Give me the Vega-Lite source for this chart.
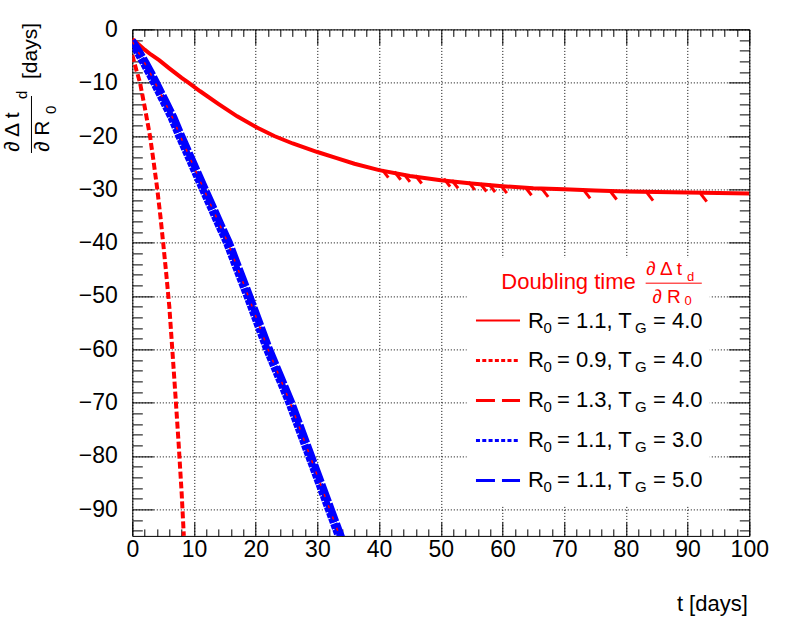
{
"$schema":"https://vega.github.io/schema/vega-lite/v6.json",
"width":617,"height":506.5,
"autosize":{"type":"none"},
"padding":{"left":132.3,"top":29.4,"right":46.7,"bottom":86.1},
"background":"white",
"config":{"font":"Liberation Sans","view":{"stroke":"black","strokeWidth":1}},
"datasets":{
"curves":[
{"series":"R0=1.1,TG=4.0","t":0,"v":-1.8},{"series":"R0=1.1,TG=4.0","t":1,"v":-2.8},{"series":"R0=1.1,TG=4.0","t":2,"v":-3.8},{"series":"R0=1.1,TG=4.0","t":3,"v":-4.7},{"series":"R0=1.1,TG=4.0","t":4.4,"v":-5.8},{"series":"R0=1.1,TG=4.0","t":6,"v":-7.3},{"series":"R0=1.1,TG=4.0","t":8,"v":-9.1},{"series":"R0=1.1,TG=4.0","t":9.1,"v":-10.0},{"series":"R0=1.1,TG=4.0","t":11,"v":-11.6},{"series":"R0=1.1,TG=4.0","t":14,"v":-14.0},{"series":"R0=1.1,TG=4.0","t":17,"v":-16.3},{"series":"R0=1.1,TG=4.0","t":20.2,"v":-18.4},{"series":"R0=1.1,TG=4.0","t":23,"v":-20.0},{"series":"R0=1.1,TG=4.0","t":26,"v":-21.4},{"series":"R0=1.1,TG=4.0","t":30,"v":-23.0},{"series":"R0=1.1,TG=4.0","t":33,"v":-24.1},{"series":"R0=1.1,TG=4.0","t":36,"v":-25.2},{"series":"R0=1.1,TG=4.0","t":40,"v":-26.4},{"series":"R0=1.1,TG=4.0","t":45,"v":-27.5},{"series":"R0=1.1,TG=4.0","t":50,"v":-28.3},{"series":"R0=1.1,TG=4.0","t":55,"v":-28.9},{"series":"R0=1.1,TG=4.0","t":60,"v":-29.4},{"series":"R0=1.1,TG=4.0","t":65,"v":-29.8},{"series":"R0=1.1,TG=4.0","t":70,"v":-30.0},{"series":"R0=1.1,TG=4.0","t":75,"v":-30.2},{"series":"R0=1.1,TG=4.0","t":80,"v":-30.4},{"series":"R0=1.1,TG=4.0","t":85,"v":-30.5},{"series":"R0=1.1,TG=4.0","t":90,"v":-30.6},{"series":"R0=1.1,TG=4.0","t":95,"v":-30.7},{"series":"R0=1.1,TG=4.0","t":100,"v":-30.8},
{"series":"R0=0.9,TG=4.0","t":0,"v":-4.8},{"series":"R0=0.9,TG=4.0","t":0.2,"v":-5.7},{"series":"R0=0.9,TG=4.0","t":0.7,"v":-7.8},{"series":"R0=0.9,TG=4.0","t":1.25,"v":-10},{"series":"R0=0.9,TG=4.0","t":2.0,"v":-14.5},{"series":"R0=0.9,TG=4.0","t":2.87,"v":-20},{"series":"R0=0.9,TG=4.0","t":3.5,"v":-25.2},{"series":"R0=0.9,TG=4.0","t":4.05,"v":-30},{"series":"R0=0.9,TG=4.0","t":4.55,"v":-35},{"series":"R0=0.9,TG=4.0","t":5.0,"v":-40},{"series":"R0=0.9,TG=4.0","t":5.5,"v":-45.8},{"series":"R0=0.9,TG=4.0","t":6.0,"v":-52},{"series":"R0=0.9,TG=4.0","t":6.5,"v":-60.3},{"series":"R0=0.9,TG=4.0","t":7.0,"v":-68.8},{"series":"R0=0.9,TG=4.0","t":7.5,"v":-77.5},{"series":"R0=0.9,TG=4.0","t":8.0,"v":-87},{"series":"R0=0.9,TG=4.0","t":8.35,"v":-95},
{"series":"R0=1.3,TG=4.0","t":0,"v":-2.3},{"series":"R0=1.3,TG=4.0","t":1,"v":-4.3},{"series":"R0=1.3,TG=4.0","t":2,"v":-6.3},{"series":"R0=1.3,TG=4.0","t":3,"v":-8.4},{"series":"R0=1.3,TG=4.0","t":3.7,"v":-10},{"series":"R0=1.3,TG=4.0","t":5,"v":-13},{"series":"R0=1.3,TG=4.0","t":6.5,"v":-16.5},{"series":"R0=1.3,TG=4.0","t":7.7,"v":-19.8},{"series":"R0=1.3,TG=4.0","t":9,"v":-23.2},{"series":"R0=1.3,TG=4.0","t":10.3,"v":-26.6},{"series":"R0=1.3,TG=4.0","t":11.6,"v":-30},{"series":"R0=1.3,TG=4.0","t":13,"v":-33.6},{"series":"R0=1.3,TG=4.0","t":14.3,"v":-37},{"series":"R0=1.3,TG=4.0","t":15.5,"v":-40},{"series":"R0=1.3,TG=4.0","t":17,"v":-44.6},{"series":"R0=1.3,TG=4.0","t":18.8,"v":-50},{"series":"R0=1.3,TG=4.0","t":20.4,"v":-55},{"series":"R0=1.3,TG=4.0","t":22,"v":-60},{"series":"R0=1.3,TG=4.0","t":23.8,"v":-65},{"series":"R0=1.3,TG=4.0","t":25.6,"v":-70},{"series":"R0=1.3,TG=4.0","t":27.2,"v":-75},{"series":"R0=1.3,TG=4.0","t":28.8,"v":-80},{"series":"R0=1.3,TG=4.0","t":30.4,"v":-85},{"series":"R0=1.3,TG=4.0","t":32,"v":-90},{"series":"R0=1.3,TG=4.0","t":33.6,"v":-95},{"series":"R0=1.3,TG=4.0","t":34.2,"v":-96.8},
{"series":"R0=1.1,TG=3.0","t":0,"v":-2.5},{"series":"R0=1.1,TG=3.0","t":0.8,"v":-4.3},{"series":"R0=1.1,TG=3.0","t":1.8,"v":-6.3},{"series":"R0=1.1,TG=3.0","t":2.8,"v":-8.4},{"series":"R0=1.1,TG=3.0","t":3.5,"v":-10},{"series":"R0=1.1,TG=3.0","t":4.8,"v":-13},{"series":"R0=1.1,TG=3.0","t":6.3,"v":-16.5},{"series":"R0=1.1,TG=3.0","t":7.5,"v":-19.8},{"series":"R0=1.1,TG=3.0","t":8.8,"v":-23.2},{"series":"R0=1.1,TG=3.0","t":10.1,"v":-26.6},{"series":"R0=1.1,TG=3.0","t":11.4,"v":-30},{"series":"R0=1.1,TG=3.0","t":12.8,"v":-33.6},{"series":"R0=1.1,TG=3.0","t":14.1,"v":-37},{"series":"R0=1.1,TG=3.0","t":15.3,"v":-40},{"series":"R0=1.1,TG=3.0","t":16.8,"v":-44.6},{"series":"R0=1.1,TG=3.0","t":18.6,"v":-50},{"series":"R0=1.1,TG=3.0","t":20.2,"v":-55},{"series":"R0=1.1,TG=3.0","t":21.8,"v":-60},{"series":"R0=1.1,TG=3.0","t":23.6,"v":-65},{"series":"R0=1.1,TG=3.0","t":25.4,"v":-70},{"series":"R0=1.1,TG=3.0","t":27.0,"v":-75},{"series":"R0=1.1,TG=3.0","t":28.6,"v":-80},{"series":"R0=1.1,TG=3.0","t":30.2,"v":-85},{"series":"R0=1.1,TG=3.0","t":31.8,"v":-90},{"series":"R0=1.1,TG=3.0","t":33.4,"v":-95},{"series":"R0=1.1,TG=3.0","t":34.0,"v":-96.8},
{"series":"R0=1.1,TG=5.0","t":0,"v":-2.1},{"series":"R0=1.1,TG=5.0","t":1.2,"v":-4.3},{"series":"R0=1.1,TG=5.0","t":2.2,"v":-6.3},{"series":"R0=1.1,TG=5.0","t":3.2,"v":-8.4},{"series":"R0=1.1,TG=5.0","t":3.9,"v":-10},{"series":"R0=1.1,TG=5.0","t":5.2,"v":-13},{"series":"R0=1.1,TG=5.0","t":6.7,"v":-16.5},{"series":"R0=1.1,TG=5.0","t":7.9,"v":-19.8},{"series":"R0=1.1,TG=5.0","t":9.2,"v":-23.2},{"series":"R0=1.1,TG=5.0","t":10.5,"v":-26.6},{"series":"R0=1.1,TG=5.0","t":11.8,"v":-30},{"series":"R0=1.1,TG=5.0","t":13.2,"v":-33.6},{"series":"R0=1.1,TG=5.0","t":14.5,"v":-37},{"series":"R0=1.1,TG=5.0","t":15.7,"v":-40},{"series":"R0=1.1,TG=5.0","t":17.2,"v":-44.6},{"series":"R0=1.1,TG=5.0","t":19.0,"v":-50},{"series":"R0=1.1,TG=5.0","t":20.6,"v":-55},{"series":"R0=1.1,TG=5.0","t":22.2,"v":-60},{"series":"R0=1.1,TG=5.0","t":24.0,"v":-65},{"series":"R0=1.1,TG=5.0","t":25.8,"v":-70},{"series":"R0=1.1,TG=5.0","t":27.4,"v":-75},{"series":"R0=1.1,TG=5.0","t":29.0,"v":-80},{"series":"R0=1.1,TG=5.0","t":30.6,"v":-85},{"series":"R0=1.1,TG=5.0","t":32.2,"v":-90},{"series":"R0=1.1,TG=5.0","t":33.8,"v":-95},{"series":"R0=1.1,TG=5.0","t":34.4,"v":-96.8}
],
"spikes":[
{"t":40.5,"v":-26.3,"t2":41.5,"v2":-27.8},{"t":42.5,"v":-26.7,"t2":43.5,"v2":-28.2},{"t":44.0,"v":-27.1,"t2":45.0,"v2":-28.6},{"t":45.9,"v":-27.4,"t2":46.9,"v2":-28.9},{"t":50.5,"v":-28.0,"t2":51.5,"v2":-29.5},{"t":51.8,"v":-28.3,"t2":52.8,"v2":-29.8},{"t":54.5,"v":-28.6,"t2":55.5,"v2":-30.1},{"t":56.4,"v":-28.9,"t2":57.4,"v2":-30.4},{"t":57.8,"v":-29.0,"t2":58.8,"v2":-30.5},{"t":59.7,"v":-29.2,"t2":60.7,"v2":-30.7},{"t":63.7,"v":-29.6,"t2":64.7,"v2":-31.1},{"t":66.4,"v":-29.9,"t2":67.4,"v2":-31.4},{"t":73.2,"v":-30.2,"t2":74.2,"v2":-31.7},{"t":77.5,"v":-30.4,"t2":78.5,"v2":-31.9},{"t":83.4,"v":-30.6,"t2":84.4,"v2":-32.1},{"t":92.1,"v":-30.8,"t2":93.1,"v2":-32.3}
],
"legend":[
{"series":"R0=1.1,TG=4.0","mid":"= 1.1, T","end":"= 4.0","ly":-54.6},
{"series":"R0=0.9,TG=4.0","mid":"= 0.9, T","end":"= 4.0","ly":-62.1},
{"series":"R0=1.3,TG=4.0","mid":"= 1.3, T","end":"= 4.0","ly":-69.6},
{"series":"R0=1.1,TG=3.0","mid":"= 1.1, T","end":"= 3.0","ly":-77.1},
{"series":"R0=1.1,TG=5.0","mid":"= 1.1, T","end":"= 5.0","ly":-84.6}
],
"one":[{"t":0,"v":0}]
},
"resolve":{"axis":{"x":"independent","y":"independent"}},
"layer":[
{"data":{"name":"curves"},"transform":[{"filter":"datum.series === 'R0=1.1,TG=4.0'"}],
 "mark":{"type":"line","color":"#ff0000","strokeWidth":4,"clip":true},
 "encoding":{
  "x":{"field":"t","type":"quantitative","scale":{"domain":[0,100],"nice":false,"zero":false},
   "axis":{"orient":"bottom","values":[0,2,4,6,8,10,12,14,16,18,20,22,24,26,28,30,32,34,36,38,40,42,44,46,48,50,52,54,56,58,60,62,64,66,68,70,72,74,76,78,80,82,84,86,88,90,92,94,96,98,100],
    "format":"d","labelExpr":"datum.value % 10 === 0 ? datum.label : ''","labelFont":"Liberation Sans","labelFontSize":23,"labelColor":"black","labelPadding":17,"labelOverlap":false,"labelFlush":false,"labelBound":false,
    "domain":false,"ticks":true,"tickColor":"black","tickWidth":1,"tickSize":{"condition":{"test":"datum.value % 10 === 0","value":-14},"value":-7},
    "grid":true,"gridColor":"black","gridWidth":1,"gridDash":[1,2],"gridOpacity":{"condition":{"test":"datum.value % 10 === 0","value":1},"value":0},
    "title":"t [days]","titleFont":"Liberation Sans","titleFontSize":22,"titleFontWeight":"normal","titleColor":"black","titleX":615,"titleY":75,"titleAlign":"right","titleBaseline":"alphabetic"}},
  "y":{"field":"v","type":"quantitative","scale":{"domain":[-95,0],"nice":false,"zero":false},
   "axis":{"orient":"left","values":[0,-2,-4,-6,-8,-10,-12,-14,-16,-18,-20,-22,-24,-26,-28,-30,-32,-34,-36,-38,-40,-42,-44,-46,-48,-50,-52,-54,-56,-58,-60,-62,-64,-66,-68,-70,-72,-74,-76,-78,-80,-82,-84,-86,-88,-90,-92,-94],
    "format":"d","labelExpr":"datum.value % 10 === 0 ? datum.label : ''","labelFont":"Liberation Sans","labelFontSize":23,"labelColor":"black","labelPadding":36,"labelOverlap":false,"labelFlush":false,"labelBound":false,
    "domain":false,"ticks":true,"tickColor":"black","tickWidth":1,"tickSize":{"condition":{"test":"datum.value % 10 === 0","value":-21},"value":-10},
    "grid":true,"gridColor":"black","gridWidth":1,"gridDash":[1,2],"gridOpacity":{"condition":{"test":"datum.value % 10 === 0","value":1},"value":0},
    "title":null}}
 }},
{"data":{"name":"spikes"},"mark":{"type":"rule","color":"#ff0000","strokeWidth":3},
 "encoding":{"x":{"field":"t","type":"quantitative","scale":{"domain":[0,100],"nice":false,"zero":false},"axis":null},"x2":{"field":"t2"},
  "y":{"field":"v","type":"quantitative","scale":{"domain":[-95,0],"nice":false,"zero":false},"axis":null},"y2":{"field":"v2"}}},
{"data":{"name":"curves"},"transform":[{"filter":"datum.series === 'R0=0.9,TG=4.0'"}],
 "mark":{"type":"line","color":"#ff0000","strokeWidth":4,"strokeDash":[7,3],"clip":true},
 "encoding":{"x":{"field":"t","type":"quantitative","scale":{"domain":[0,100],"nice":false,"zero":false},"axis":null},
  "y":{"field":"v","type":"quantitative","scale":{"domain":[-95,0],"nice":false,"zero":false},"axis":null}}},
{"data":{"name":"curves"},"transform":[{"filter":"datum.series === 'R0=1.1,TG=3.0'"}],
 "mark":{"type":"line","color":"#0000ff","strokeWidth":7.5,"strokeDash":[5,1],"clip":true},
 "encoding":{"x":{"field":"t","type":"quantitative","scale":{"domain":[0,100],"nice":false,"zero":false},"axis":null},
  "y":{"field":"v","type":"quantitative","scale":{"domain":[-95,0],"nice":false,"zero":false},"axis":null}}},
{"data":{"name":"curves"},"transform":[{"filter":"datum.series === 'R0=1.1,TG=5.0'"}],
 "mark":{"type":"line","color":"#0000ff","strokeWidth":7.5,"strokeDash":[19,2],"clip":true},
 "encoding":{"x":{"field":"t","type":"quantitative","scale":{"domain":[0,100],"nice":false,"zero":false},"axis":null},
  "y":{"field":"v","type":"quantitative","scale":{"domain":[-95,0],"nice":false,"zero":false},"axis":null}}},
{"data":{"name":"curves"},"transform":[{"filter":"datum.series === 'R0=1.3,TG=4.0'"}],
 "mark":{"type":"line","color":"#ff0000","strokeWidth":1.5,"strokeDash":[3,9],"clip":true},
 "encoding":{"x":{"field":"t","type":"quantitative","scale":{"domain":[0,100],"nice":false,"zero":false},"axis":null},
  "y":{"field":"v","type":"quantitative","scale":{"domain":[-95,0],"nice":false,"zero":false},"axis":null}}},
{"data":{"values":[{}]},"mark":{"type":"rect","fill":"white"},
 "encoding":{"x":{"datum":54.2,"type":"quantitative","scale":{"domain":[0,100],"nice":false,"zero":false},"axis":null},"x2":{"datum":93.6},
  "y":{"datum":-42.9,"type":"quantitative","scale":{"domain":[-95,0],"nice":false,"zero":false},"axis":null},"y2":{"datum":-89.2}}},
{"data":{"name":"legend"},"transform":[{"filter":"datum.series === 'R0=1.1,TG=4.0'"}],"mark":{"type":"rule","color":"#ff0000","strokeWidth":2},
 "encoding":{"x":{"datum":55.7,"type":"quantitative","scale":{"domain":[0,100],"nice":false,"zero":false},"axis":null},"x2":{"datum":62.84},
  "y":{"field":"ly","type":"quantitative","scale":{"domain":[-95,0],"nice":false,"zero":false},"axis":null}}},
{"data":{"name":"legend"},"transform":[{"filter":"datum.series !== 'R0=1.1,TG=4.0'"}],"mark":{"type":"rule","strokeWidth":3},
 "encoding":{"x":{"datum":55.7,"type":"quantitative","scale":{"domain":[0,100],"nice":false,"zero":false},"axis":null},"x2":{"datum":62.84},
  "y":{"field":"ly","type":"quantitative","scale":{"domain":[-95,0],"nice":false,"zero":false},"axis":null},
  "color":{"field":"series","type":"nominal","scale":{"domain":["R0=0.9,TG=4.0","R0=1.3,TG=4.0","R0=1.1,TG=3.0","R0=1.1,TG=5.0"],"range":["#ff0000","#ff0000","#0000ff","#0000ff"]},"legend":null},
  "strokeDash":{"field":"series","type":"nominal","scale":{"domain":["R0=0.9,TG=4.0","R0=1.3,TG=4.0","R0=1.1,TG=3.0","R0=1.1,TG=5.0"],"range":[[4,2.3],[19,7],[4,2.3],[19,7]]},"legend":null}}},
{"data":{"name":"legend"},"mark":{"type":"text","text":"R","align":"left","baseline":"middle","fontSize":22,"font":"Liberation Sans","color":"black"},
 "encoding":{"x":{"datum":64.13,"type":"quantitative","scale":{"domain":[0,100],"nice":false,"zero":false},"axis":null},
  "y":{"field":"ly","type":"quantitative","scale":{"domain":[-95,0],"nice":false,"zero":false},"axis":null}}},
{"data":{"name":"legend"},"mark":{"type":"text","text":"0","align":"left","baseline":"middle","fontSize":15,"font":"Liberation Sans","color":"black","dx":15.5,"dy":7},
 "encoding":{"x":{"datum":64.13,"type":"quantitative","scale":{"domain":[0,100],"nice":false,"zero":false},"axis":null},
  "y":{"field":"ly","type":"quantitative","scale":{"domain":[-95,0],"nice":false,"zero":false},"axis":null}}},
{"data":{"name":"legend"},"mark":{"type":"text","align":"left","baseline":"middle","fontSize":22,"font":"Liberation Sans","color":"black","dx":29},
 "encoding":{"x":{"datum":64.13,"type":"quantitative","scale":{"domain":[0,100],"nice":false,"zero":false},"axis":null},
  "y":{"field":"ly","type":"quantitative","scale":{"domain":[-95,0],"nice":false,"zero":false},"axis":null},"text":{"field":"mid"}}},
{"data":{"name":"legend"},"mark":{"type":"text","text":"G","align":"left","baseline":"middle","fontSize":15,"font":"Liberation Sans","color":"black","dx":107,"dy":7},
 "encoding":{"x":{"datum":64.13,"type":"quantitative","scale":{"domain":[0,100],"nice":false,"zero":false},"axis":null},
  "y":{"field":"ly","type":"quantitative","scale":{"domain":[-95,0],"nice":false,"zero":false},"axis":null}}},
{"data":{"name":"legend"},"mark":{"type":"text","align":"left","baseline":"middle","fontSize":22,"font":"Liberation Sans","color":"black","dx":125},
 "encoding":{"x":{"datum":64.13,"type":"quantitative","scale":{"domain":[0,100],"nice":false,"zero":false},"axis":null},
  "y":{"field":"ly","type":"quantitative","scale":{"domain":[-95,0],"nice":false,"zero":false},"axis":null},"text":{"field":"end"}}},
{"data":{"values":[{}]},"mark":{"type":"text","text":"Doubling time","align":"right","baseline":"alphabetic","fontSize":22,"font":"Liberation Sans","color":"#ff0000"},
 "encoding":{"x":{"datum":81.6,"type":"quantitative","scale":{"domain":[0,100],"nice":false,"zero":false},"axis":null},
  "y":{"datum":-48.7,"type":"quantitative","scale":{"domain":[-95,0],"nice":false,"zero":false},"axis":null}}},
{"data":{"values":[{}]},"mark":{"type":"text","text":"∂ Δ t","align":"left","baseline":"alphabetic","fontSize":19,"font":"Liberation Sans","color":"#ff0000"},
 "encoding":{"x":{"datum":83.3,"type":"quantitative","scale":{"domain":[0,100],"nice":false,"zero":false},"axis":null},
  "y":{"datum":-46.05,"type":"quantitative","scale":{"domain":[-95,0],"nice":false,"zero":false},"axis":null}}},
{"data":{"values":[{}]},"mark":{"type":"text","text":"d","align":"left","baseline":"alphabetic","fontSize":13,"font":"Liberation Sans","color":"#ff0000"},
 "encoding":{"x":{"datum":89.9,"type":"quantitative","scale":{"domain":[0,100],"nice":false,"zero":false},"axis":null},
  "y":{"datum":-47.2,"type":"quantitative","scale":{"domain":[-95,0],"nice":false,"zero":false},"axis":null}}},
{"data":{"values":[{}]},"mark":{"type":"rule","color":"#ff0000","strokeWidth":1},
 "encoding":{"x":{"datum":83.2,"type":"quantitative","scale":{"domain":[0,100],"nice":false,"zero":false},"axis":null},"x2":{"datum":92.3},
  "y":{"datum":-47.6,"type":"quantitative","scale":{"domain":[-95,0],"nice":false,"zero":false},"axis":null}}},
{"data":{"values":[{}]},"mark":{"type":"text","text":"∂ R","align":"left","baseline":"alphabetic","fontSize":19,"font":"Liberation Sans","color":"#ff0000"},
 "encoding":{"x":{"datum":84.3,"type":"quantitative","scale":{"domain":[0,100],"nice":false,"zero":false},"axis":null},
  "y":{"datum":-51.36,"type":"quantitative","scale":{"domain":[-95,0],"nice":false,"zero":false},"axis":null}}},
{"data":{"values":[{}]},"mark":{"type":"text","text":"0","align":"left","baseline":"alphabetic","fontSize":13,"font":"Liberation Sans","color":"#ff0000"},
 "encoding":{"x":{"datum":89.5,"type":"quantitative","scale":{"domain":[0,100],"nice":false,"zero":false},"axis":null},
  "y":{"datum":-51.68,"type":"quantitative","scale":{"domain":[-95,0],"nice":false,"zero":false},"axis":null}}},
{"data":{"values":[{}]},"mark":{"type":"text","text":"∂ Δ t","angle":270,"align":"left","baseline":"alphabetic","fontSize":21,"font":"Liberation Sans","color":"black"},
 "encoding":{"x":{"datum":-18.44,"type":"quantitative","scale":{"domain":[0,100],"nice":false,"zero":false},"axis":null},
  "y":{"datum":-23.0,"type":"quantitative","scale":{"domain":[-95,0],"nice":false,"zero":false},"axis":null}}},
{"data":{"values":[{}]},"mark":{"type":"text","text":"d","angle":270,"align":"left","baseline":"alphabetic","fontSize":15,"font":"Liberation Sans","color":"black"},
 "encoding":{"x":{"datum":-17.07,"type":"quantitative","scale":{"domain":[0,100],"nice":false,"zero":false},"axis":null},
  "y":{"datum":-13.05,"type":"quantitative","scale":{"domain":[-95,0],"nice":false,"zero":false},"axis":null}}},
{"data":{"values":[{}]},"mark":{"type":"rule","color":"black","strokeWidth":1},
 "encoding":{"x":{"datum":-16.34,"type":"quantitative","scale":{"domain":[0,100],"nice":false,"zero":false},"axis":null},
  "y":{"datum":-12.49,"type":"quantitative","scale":{"domain":[-95,0],"nice":false,"zero":false},"axis":null},"y2":{"datum":-23.18}}},
{"data":{"values":[{}]},"mark":{"type":"text","text":"∂ R","angle":270,"align":"left","baseline":"alphabetic","fontSize":21,"font":"Liberation Sans","color":"black"},
 "encoding":{"x":{"datum":-13.42,"type":"quantitative","scale":{"domain":[0,100],"nice":false,"zero":false},"axis":null},
  "y":{"datum":-23.0,"type":"quantitative","scale":{"domain":[-95,0],"nice":false,"zero":false},"axis":null}}},
{"data":{"values":[{}]},"mark":{"type":"text","text":"0","angle":270,"align":"left","baseline":"alphabetic","fontSize":15,"font":"Liberation Sans","color":"black"},
 "encoding":{"x":{"datum":-12.37,"type":"quantitative","scale":{"domain":[0,100],"nice":false,"zero":false},"axis":null},
  "y":{"datum":-15.86,"type":"quantitative","scale":{"domain":[-95,0],"nice":false,"zero":false},"axis":null}}},
{"data":{"values":[{}]},"mark":{"type":"text","text":"[days]","angle":270,"align":"left","baseline":"alphabetic","fontSize":21,"font":"Liberation Sans","color":"black"},
 "encoding":{"x":{"datum":-15.45,"type":"quantitative","scale":{"domain":[0,100],"nice":false,"zero":false},"axis":null},
  "y":{"datum":-9.3,"type":"quantitative","scale":{"domain":[-95,0],"nice":false,"zero":false},"axis":null}}},
{"data":{"name":"one"},"mark":{"type":"point","opacity":0},
 "encoding":{
  "x":{"field":"t","type":"quantitative","scale":{"domain":[0,100],"nice":false,"zero":false},
   "axis":{"orient":"top","values":[0,2,4,6,8,10,12,14,16,18,20,22,24,26,28,30,32,34,36,38,40,42,44,46,48,50,52,54,56,58,60,62,64,66,68,70,72,74,76,78,80,82,84,86,88,90,92,94,96,98,100],
    "labels":false,"domain":false,"grid":false,"title":null,"ticks":true,"tickColor":"black","tickWidth":1,"tickSize":{"condition":{"test":"datum.value % 10 === 0","value":-15},"value":-7}}},
  "y":{"field":"v","type":"quantitative","scale":{"domain":[-95,0],"nice":false,"zero":false},
   "axis":{"orient":"right","values":[0,-2,-4,-6,-8,-10,-12,-14,-16,-18,-20,-22,-24,-26,-28,-30,-32,-34,-36,-38,-40,-42,-44,-46,-48,-50,-52,-54,-56,-58,-60,-62,-64,-66,-68,-70,-72,-74,-76,-78,-80,-82,-84,-86,-88,-90,-92,-94],
    "labels":false,"domain":false,"grid":false,"title":null,"ticks":true,"tickColor":"black","tickWidth":1,"tickSize":{"condition":{"test":"datum.value % 10 === 0","value":-21},"value":-10}}}
 }}
]
}
